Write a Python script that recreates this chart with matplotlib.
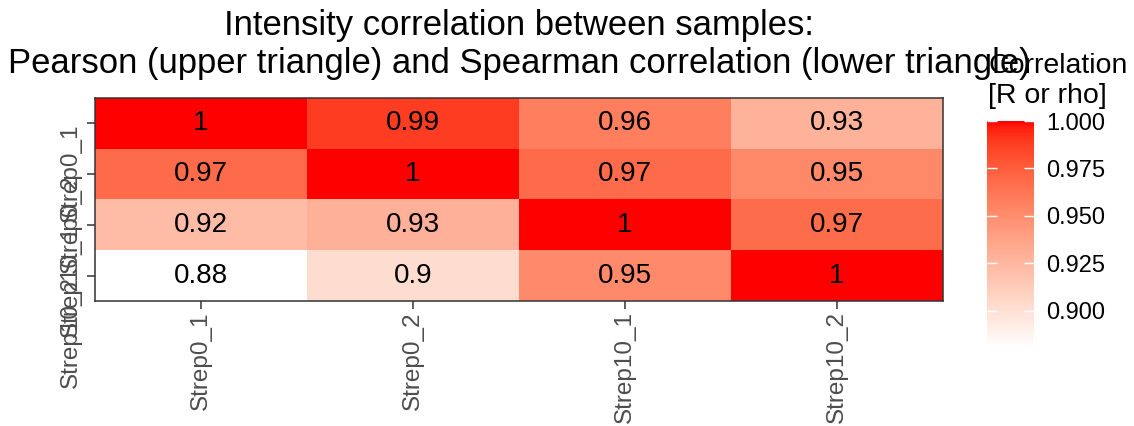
import numpy as np
import matplotlib
matplotlib.use("Agg")
import matplotlib.pyplot as plt
from matplotlib.colors import ListedColormap

plt.rcParams['font.family'] = ['Liberation Sans', 'DejaVu Sans']

samples = ["Strep0_1", "Strep0_2", "Strep10_1", "Strep10_2"]
# rows from top to bottom, upper triangle Pearson, lower triangle Spearman
corr_values = [
    [1.000, 0.988, 0.958, 0.928],
    [0.968, 1.000, 0.968, 0.952],
    [0.922, 0.929, 1.000, 0.967],
    [0.8805, 0.902, 0.951, 1.000],
]
cbar_ticks = [0.900, 0.925, 0.950, 0.975, 1.000]
title = ("Intensity correlation between samples:\n"
         "Pearson (upper triangle) and Spearman correlation (lower triangle)")
legend_title = "Correlation\n[R or rho]"


def srgb_to_lab(rgb):
    c = np.asarray(rgb, dtype=float)
    lin = np.where(c <= 0.04045, c / 12.92, ((c + 0.055) / 1.055) ** 2.4)
    m = np.array([[0.4124, 0.3576, 0.1805],
                  [0.2126, 0.7152, 0.0722],
                  [0.0193, 0.1192, 0.9505]])
    xyz = m @ lin / np.array([0.95047, 1.0, 1.08883])
    f = np.where(xyz > 0.008856, np.cbrt(xyz), 7.787 * xyz + 16 / 116)
    return np.array([116 * f[1] - 16, 500 * (f[0] - f[1]), 200 * (f[1] - f[2])])


def lab_to_srgb(lab):
    fy = (lab[0] + 16) / 116
    fx = fy + lab[1] / 500
    fz = fy - lab[2] / 200
    f = np.array([fx, fy, fz])
    xyz = np.where(f ** 3 > 0.008856, f ** 3, (f - 16 / 116) / 7.787)
    xyz = xyz * np.array([0.95047, 1.0, 1.08883])
    m = np.array([[3.2406, -1.5372, -0.4986],
                  [-0.9689, 1.8758, 0.0415],
                  [0.0557, -0.2040, 1.0570]])
    lin = np.clip(m @ xyz, 0, 1)
    c = np.where(lin <= 0.0031308, 12.92 * lin, 1.055 * lin ** (1 / 2.4) - 0.055)
    return np.clip(c, 0, 1)


lab_lo = srgb_to_lab([1, 1, 1])
lab_hi = srgb_to_lab([1, 0, 0])
colors = [lab_to_srgb(lab_lo + t * (lab_hi - lab_lo)) for t in np.linspace(0, 1, 256)]
colors[0] = np.array([1.0, 1.0, 1.0])
cmap = ListedColormap(colors)

vals = np.array(corr_values)
vmin, vmax = vals.min(), vals.max()

fig = plt.figure(figsize=(11.34, 4.26), dpi=100)
ax = fig.add_axes([95 / 1134, 1 - 301 / 426, 848 / 1134, 203 / 426])
im = ax.imshow(vals, cmap=cmap, vmin=vmin, vmax=vmax, aspect='auto')

for i in range(len(samples)):
    for j in range(len(samples)):
        ax.text(j, i, f"{corr_values[i][j]:.2f}".rstrip('0').rstrip('.'),
                ha='center', va='center', fontsize=20, color='black')

ax.set_xticks(range(len(samples)))
ax.set_xticklabels(samples, rotation=90, ha='center', va='top')
ax.set_yticks(range(len(samples)))
# ggplot-style: rotated labels end at their tick and run downwards
ax.set_yticklabels(samples, rotation=90, ha='right', va='bottom',
                   rotation_mode='anchor')
ax.tick_params(axis='both', length=5.5, width=1.1, color='#333333',
               labelcolor='#4d4d4d', labelsize=17.5, pad=2)
ax.tick_params(axis='y', pad=4)
for s in ax.spines.values():
    s.set_color('#333333')
    s.set_linewidth(1.1)

fig.text(519 / 1134, 1 - 80 / 426, title, ha='center', va='bottom',
         fontsize=24.9, linespacing=1.2)

cax = fig.add_axes([987 / 1134, 1 - 348 / 426, 47 / 1134, 227 / 426])
cb = fig.colorbar(im, cax=cax)
cb.outline.set_visible(False)
cb.set_ticks(cbar_ticks)
cb.set_ticklabels([f"{t:.3f}" for t in cbar_ticks])
cax.set_ylim(vmin, vmax)
cax.yaxis.set_ticks_position('both')
cax.tick_params(axis='y', direction='in', length=7, width=1, color='white',
                labelsize=17, labelcolor='black', pad=9, labelleft=False, labelright=True)
fig.text(988 / 1134, 1 - 53 / 426, legend_title, ha='left', va='top',
         fontsize=20.5, linespacing=1.2)

fig.savefig("out.png", dpi=100)
